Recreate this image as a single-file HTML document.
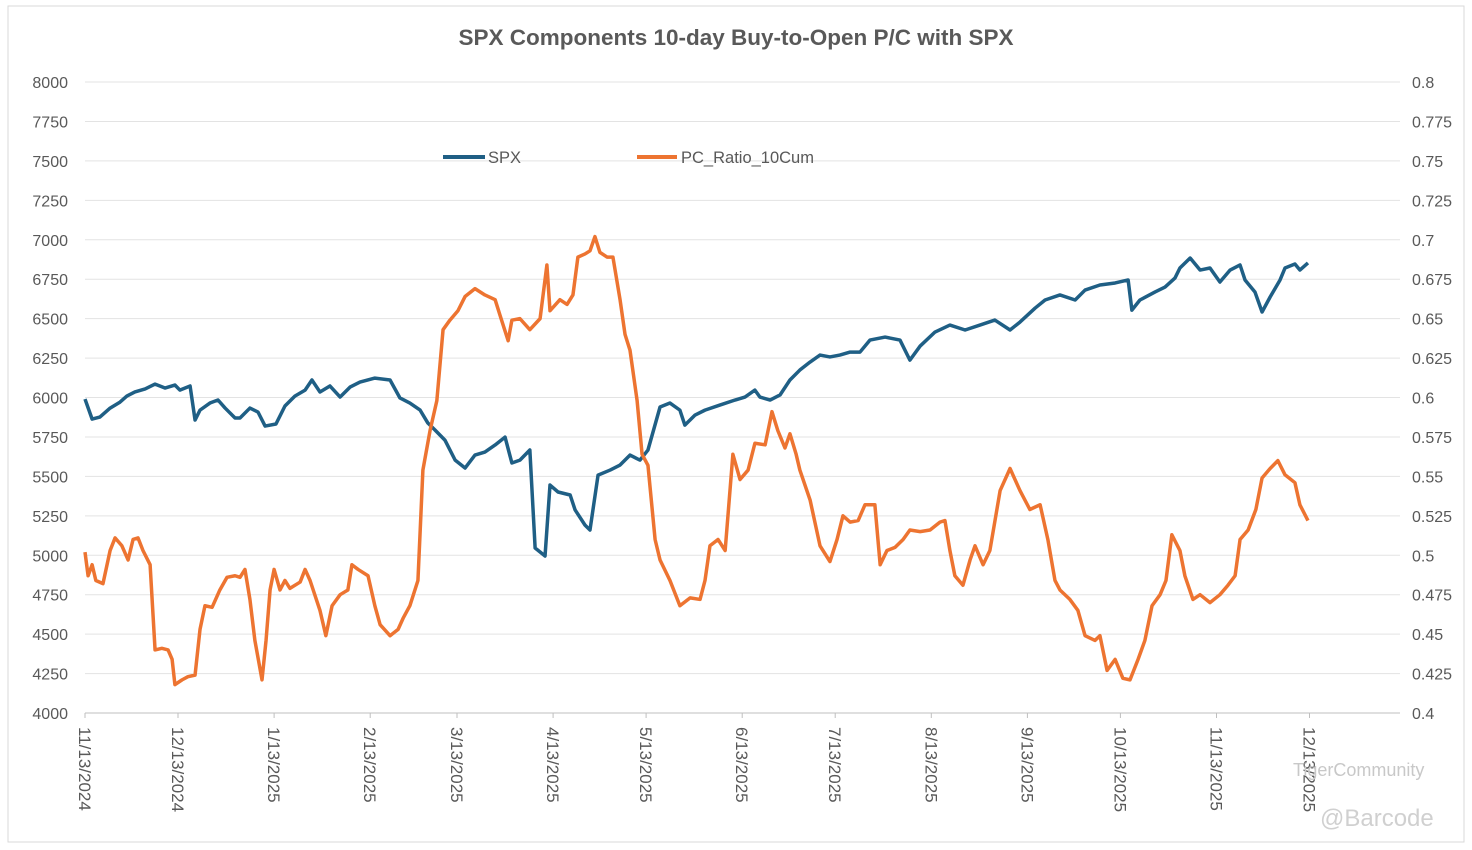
<!DOCTYPE html>
<html><head><meta charset="utf-8"><style>
html,body{margin:0;padding:0;background:#fff;}
svg{display:block;font-family:"Liberation Sans",sans-serif;}
</style></head><body>
<svg id="chart" width="1472" height="850" viewBox="0 0 1472 850" xmlns="http://www.w3.org/2000/svg">
<rect x="8" y="6" width="1456" height="836" fill="#fff" stroke="#d9d9d9"/>
<text x="736" y="45" text-anchor="middle" font-size="22.5" font-weight="bold" fill="#595959">SPX Components 10-day Buy-to-Open P/C with SPX</text>
<g id="grid"></g>
<g id="ylab"></g>
<g id="yrlab"></g>
<g id="xlab"></g>
<g id="series"></g>
<g>
<line x1="443" y1="157" x2="485" y2="157" stroke="#1f5f85" stroke-width="4"/>
<text x="488" y="163" font-size="16.5" fill="#595959">SPX</text>
<line x1="637" y1="157" x2="677" y2="157" stroke="#ed7431" stroke-width="4"/>
<text x="681" y="163" font-size="16.5" fill="#595959">PC_Ratio_10Cum</text>
</g>
<text x="1293" y="776" font-size="18" fill="#c8c8c8">TigerCommunity</text>
<text x="1320" y="826" font-size="24" fill="#d0d0d0">@Barcode</text>
</svg>
<script>
const leftTicks=[4000,4250,4500,4750,5000,5250,5500,5750,6000,6250,6500,6750,7000,7250,7500,7750,8000];
const rightTicks=["0.4","0.425","0.45","0.475","0.5","0.525","0.55","0.575","0.6","0.625","0.65","0.675","0.7","0.725","0.75","0.775","0.8"];
const xTickDays=[0,30,61,92,120,151,181,212,242,273,304,334,365,395];
const xTickLabels=["11/13/2024","12/13/2024","1/13/2025","2/13/2025","3/13/2025","4/13/2025","5/13/2025","6/13/2025","7/13/2025","8/13/2025","9/13/2025","10/13/2025","11/13/2025","12/13/2025"];
const spxDays=[0,2.3,4.8,8.1,11.3,13.5,16.1,19.4,22.6,25.8,29,30.6,33.9,35.5,37.1,40.3,42.9,45.2,48.4,50,53.2,55.8,58.1,61.6,64.5,67.7,71,73.2,75.8,79,82.3,85.5,88.7,93.5,98.4,101.6,104.8,108.1,110.6,112.9,116.1,119.4,122.6,125.8,129,132.3,135.5,137.7,140.3,143.5,145.2,148.4,150,152.6,156.5,158.1,161.3,162.9,165.5,169.4,172.6,175.8,179,181.6,185.5,188.7,191.9,193.5,196.8,200,204.8,209.7,212.9,216.1,217.7,221,224.2,227.4,230.6,233.9,237.1,240.3,243.5,246.8,250,253.2,258.1,262.9,266.1,269.4,274.2,279,283.9,288.7,293.5,298.4,301.6,306.5,309.7,314.5,319.4,322.6,327.4,332.3,336.5,337.7,340.3,345.2,348.4,351.6,353.2,356.5,359.7,362.9,366.1,369.4,372.6,374.2,377.4,379.7,382.3,385.5,387.1,390.3,391.9,394.5];
const spxValues=[5990,5863,5876,5933,5971,6009,6035,6054,6085,6060,6079,6047,6073,5857,5920,5965,5984,5933,5870,5870,5933,5908,5819,5832,5946,6009,6047,6111,6035,6073,6003,6066,6098,6123,6111,5997,5965,5920,5838,5794,5730,5603,5553,5635,5654,5699,5749,5585,5603,5667,5046,4995,5445,5401,5382,5287,5191,5160,5508,5540,5572,5635,5603,5667,5940,5965,5920,5825,5889,5920,5952,5984,6003,6047,6003,5984,6016,6111,6174,6225,6269,6257,6269,6288,6288,6364,6383,6364,6237,6326,6415,6459,6428,6459,6491,6428,6478,6567,6618,6650,6618,6681,6713,6726,6745,6554,6618,6669,6700,6757,6821,6884,6808,6821,6732,6808,6840,6745,6669,6542,6637,6745,6821,6846,6808,6853];
const pcDays=[0,1,2.3,3.5,5.8,8.1,9.7,11.9,13.9,15.5,17.1,18.7,21,22.6,24.8,26.8,28.1,29,31.3,33.2,35.5,37.1,38.7,41,43.5,45.8,48.4,50,51.6,53.2,54.8,57.1,58.4,59.7,61,62.9,64.5,66.1,69.4,71,72.6,75.8,77.7,79.7,82.3,84.8,86.1,88.1,91.3,93.5,95.2,98.4,101,102.6,104.8,107.4,109,111.3,113.5,115.5,117.7,120.3,122.6,125.8,129,132.3,133.9,136.5,137.7,140.3,143.5,146.8,149,150,153.2,155.5,157.4,159,161.3,162.9,164.5,166.1,168.4,170.3,172.6,174.2,175.8,178.1,179.7,181.6,183.9,185.5,188.7,191.9,195.2,198.4,200,201.6,204.2,206.5,209,211.3,213.9,216.1,219.4,221.6,223.5,225.8,227.4,229.4,230.6,233.9,237.1,240.3,242.6,244.5,246.8,249.4,251.6,254.8,256.5,258.7,261.3,263.9,266.1,269.4,272.6,275.8,277.4,279,280.6,283.2,285.5,287.1,289.7,291.9,295.2,298.4,301.6,304.8,308.1,310.6,312.9,314.5,317.7,320.3,322.6,325.8,327.4,329.7,332.3,334.8,337.1,339.7,341.9,344.2,346.8,348.7,350.6,353.2,354.8,357.4,359.7,362.9,366.1,368.7,371,372.6,375.2,377.7,379.7,382.3,384.8,387.1,390.3,391.9,394.5];
const pcValues=[0.502,0.487,0.494,0.484,0.482,0.503,0.511,0.506,0.497,0.510,0.511,0.503,0.494,0.440,0.441,0.440,0.434,0.418,0.421,0.423,0.424,0.453,0.468,0.467,0.478,0.486,0.487,0.486,0.491,0.472,0.446,0.421,0.446,0.478,0.491,0.478,0.484,0.479,0.483,0.491,0.484,0.465,0.449,0.468,0.475,0.478,0.494,0.491,0.487,0.468,0.456,0.449,0.453,0.460,0.468,0.484,0.554,0.579,0.598,0.643,0.649,0.655,0.664,0.669,0.665,0.662,0.652,0.636,0.649,0.650,0.643,0.650,0.684,0.655,0.662,0.659,0.665,0.689,0.691,0.693,0.702,0.692,0.689,0.689,0.662,0.640,0.630,0.598,0.564,0.557,0.510,0.497,0.484,0.468,0.473,0.472,0.484,0.506,0.510,0.503,0.564,0.548,0.554,0.571,0.570,0.591,0.579,0.568,0.577,0.564,0.554,0.535,0.506,0.496,0.510,0.525,0.521,0.522,0.532,0.532,0.494,0.503,0.505,0.510,0.516,0.515,0.516,0.521,0.522,0.503,0.487,0.481,0.497,0.506,0.494,0.503,0.541,0.555,0.541,0.529,0.532,0.510,0.484,0.478,0.472,0.465,0.449,0.446,0.449,0.427,0.434,0.422,0.421,0.434,0.446,0.468,0.475,0.484,0.513,0.503,0.487,0.472,0.475,0.470,0.475,0.481,0.487,0.510,0.516,0.529,0.549,0.555,0.560,0.551,0.546,0.532,0.522];

const NS="http://www.w3.org/2000/svg";
const X0=85,X1=1400,Y0=713,Y1=82,PXDAY=3.1;
function xs(d){return X0+d*PXDAY;}
function yl(v){return Y0-(v-4000)/4000*(Y0-Y1);}
function yr(v){return Y0-(v-0.4)/0.4*(Y0-Y1);}
function mk(tag,attrs,parent){const e=document.createElementNS(NS,tag);for(const k in attrs)e.setAttribute(k,attrs[k]);parent.appendChild(e);return e;}
const grid=document.getElementById('grid'),yl_g=document.getElementById('ylab'),yr_g=document.getElementById('yrlab'),xg=document.getElementById('xlab'),sg=document.getElementById('series');
leftTicks.forEach((t,i)=>{
  const y=yl(t);
  const ln=mk('line',{x1:X0,x2:X1,y1:y,y2:y,stroke:i===0?'#bfbfbf':'#e3e3e3','stroke-width':1},grid);
  
  
  const tx=mk('text',{x:68,y:y+6,'text-anchor':'end','font-size':16,fill:'#595959'},yl_g);
  tx.textContent=t;
  
  
});
rightTicks.forEach(t=>{
  const y=yr(parseFloat(t));
  const tx=mk('text',{x:1412,y:y+6,'font-size':16,fill:'#595959'},yr_g);
  tx.textContent=t;
  
  
});
xTickDays.forEach((d,i)=>{
  const x=xs(d);
  const tk=mk('line',{x1:x,x2:x,y1:Y0,y2:Y0+5,stroke:'#bfbfbf'},grid);
  
  
  const tx=mk('text',{x:0,y:0,'font-size':17,fill:'#595959',transform:`translate(${x-6},${Y0+14}) rotate(90)`},xg);
  tx.textContent=xTickLabels[i];
  
  
});
const p1=mk('polyline',{points:spxDays.map((d,i)=>xs(d)+','+yl(spxValues[i])).join(' '),fill:'none',stroke:'#1f5f85','stroke-width':3.5,'stroke-linejoin':'round'},sg);


const p2=mk('polyline',{points:pcDays.map((d,i)=>xs(d)+','+yr(pcValues[i])).join(' '),fill:'none',stroke:'#ed7431','stroke-width':3.5,'stroke-linejoin':'round'},sg);


</script>
</body></html>
